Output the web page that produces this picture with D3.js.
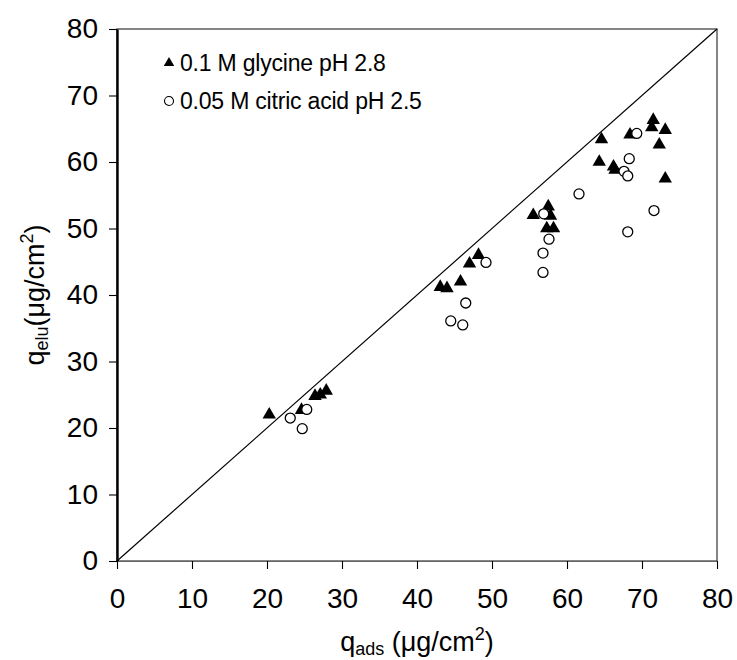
<!DOCTYPE html>
<html>
<head>
<meta charset="utf-8">
<script src="https://cdn.jsdelivr.net/npm/d3@7"></script>
<style>
	body { margin: 0; background: #fff; }
	svg { font-family: 'Liberation Sans', Arial, sans-serif; }
</style>
</head>
<body>
<svg width="737" height="660"></svg>
<script>

// glycine, filled triangles
const glycineX = [ 20.3, 24.6, 26.4, 27.1, 27.9, 43.1, 44.0, 45.8, 47.0, 48.2, 55.5, 57.5, 57.8, 57.3, 58.2, 64.3, 64.6, 66.2, 66.4, 68.4, 71.5, 71.3, 72.3, 73.1, 73.1 ],
	glycineY = [ 22.0, 22.7, 24.8, 25.0, 25.6, 41.2, 41.0, 42.0, 44.7, 46.0, 52.0, 53.3, 51.9, 50.0, 50.0, 60.0, 63.4, 59.3, 58.8, 64.1, 66.3, 65.2, 62.6, 64.8, 57.5 ]

// citric acid, open circles
const citricX = [ 23.1, 24.7, 25.3, 44.5, 46.1, 46.5, 49.2, 56.8, 56.8, 56.9, 57.6, 61.6, 67.6, 68.1, 68.3, 68.1, 69.3, 71.6 ],
	citricY = [ 21.5, 19.9, 22.8, 36.1, 35.5, 38.8, 44.9, 46.3, 43.4, 52.2, 48.4, 55.2, 58.6, 57.9, 60.5, 49.5, 64.3, 52.7 ]

const ticks = [ 0, 10, 20, 30, 40, 50, 60, 70, 80 ],
	legendLabels = [ '0.1 M glycine pH 2.8', '0.05 M citric acid pH 2.5' ]

const svg = d3.select( 'svg' ),
	width = +svg.attr( 'width' ),
	height = +svg.attr( 'height' ),
	margin = { top: 29, right: 20, bottom: 99, left: 117 },
	w = width - margin.left - margin.right,
	h = height - margin.top - margin.bottom

const x = d3.scaleLinear().domain( [ 0, 80 ] ).range( [ 0, w ] ),
	y = d3.scaleLinear().domain( [ 0, 80 ] ).range( [ h, 0 ] )

const g = svg.append( 'g' )
	.attr( 'transform', `translate(${margin.left},${margin.top})` )

// frame
g.append( 'rect' )
	.attr( 'width', w )
	.attr( 'height', h )
	.attr( 'fill', 'none' )
	.attr( 'stroke', '#444' )
	.attr( 'stroke-width', 1.3 )

// 1:1 line
g.append( 'line' )
	.attr( 'x1', x( 0 ) ).attr( 'y1', y( 0 ) )
	.attr( 'x2', x( 80 ) ).attr( 'y2', y( 80 ) )
	.attr( 'stroke', '#000' )
	.attr( 'stroke-width', 1.2 )

const xAxis = g.append( 'g' )
	.attr( 'transform', `translate(0,${h})` )
	.call( d3.axisBottom( x ).tickValues( ticks ).tickSize( 8 ).tickSizeOuter( 0 ).tickPadding( 19 ) )

const yAxis = g.append( 'g' )
	.call( d3.axisLeft( y ).tickValues( ticks ).tickSize( 8 ).tickSizeOuter( 0 ).tickPadding( 11 ) )

xAxis.select( '.domain' ).attr( 'stroke', '#666' ).attr( 'stroke-width', 1.2 )
yAxis.select( '.domain' ).attr( 'stroke-width', 2.4 )

svg.selectAll( '.tick text' )
	.attr( 'font-size', 28 )
	.attr( 'fill', '#000' )
	.attr( 'font-family', "'Liberation Sans', Arial, sans-serif" )
svg.selectAll( '.tick line' ).attr( 'stroke-width', 1.1 )

const tri = d3.symbol().type( d3.symbolTriangle ).size( 78 )

g.append( 'g' )
	.selectAll( 'path' )
	.data( glycineX.map( ( d, i ) => [ d, glycineY[ i ] ] ) )
	.enter()
	.append( 'path' )
	.attr( 'd', tri )
	.attr( 'transform', d => `translate(${x( d[ 0 ] )},${y( d[ 1 ] )})` )
	.attr( 'fill', '#000' )

g.append( 'g' )
	.selectAll( 'circle' )
	.data( citricX.map( ( d, i ) => [ d, citricY[ i ] ] ) )
	.enter()
	.append( 'circle' )
	.attr( 'cx', d => x( d[ 0 ] ) )
	.attr( 'cy', d => y( d[ 1 ] ) )
	.attr( 'r', 5 )
	.attr( 'fill', '#fff' )
	.attr( 'stroke', '#000' )
	.attr( 'stroke-width', 1.3 )

// legend
const legend = g.append( 'g' )
	.attr( 'transform', 'translate(52,34)' )

legend.append( 'path' )
	.attr( 'd', d3.symbol().type( d3.symbolTriangle ).size( 48 ) )
	.attr( 'fill', '#000' )

legend.append( 'circle' )
	.attr( 'cy', 38 )
	.attr( 'r', 4.5 )
	.attr( 'fill', '#fff' )
	.attr( 'stroke', '#000' )
	.attr( 'stroke-width', 1.1 )

legend.selectAll( 'text' )
	.data( legendLabels )
	.enter()
	.append( 'text' )
	.attr( 'x', 11 )
	.attr( 'y', ( d, i ) => i * 38 )
	.attr( 'dy', '0.35em' )
	.attr( 'font-size', 23 )
	.attr( 'letter-spacing', -0.2 )
	.text( d => d )

// axis titles
const xTitle = svg.append( 'text' )
	.attr( 'x', margin.left + w / 2 )
	.attr( 'y', 651 )
	.attr( 'text-anchor', 'middle' )
	.attr( 'font-size', 27 )
xTitle.append( 'tspan' ).text( 'q' )
xTitle.append( 'tspan' ).attr( 'font-size', 18 ).attr( 'dy', 4 ).text( 'ads' )
xTitle.append( 'tspan' ).attr( 'dy', -4 ).text( ' (μg/cm' )
xTitle.append( 'tspan' ).attr( 'font-size', 18 ).attr( 'dy', -11 ).text( '2' )
xTitle.append( 'tspan' ).attr( 'dy', 11 ).text( ')' )

const yTitle = svg.append( 'text' )
	.attr( 'transform', `translate(44,${margin.top + h / 2}) rotate(-90)` )
	.attr( 'text-anchor', 'middle' )
	.attr( 'font-size', 27 )
yTitle.append( 'tspan' ).text( 'q' )
yTitle.append( 'tspan' ).attr( 'font-size', 18 ).attr( 'dy', 4 ).text( 'elu' )
yTitle.append( 'tspan' ).attr( 'dy', -4 ).text( '(μg/cm' )
yTitle.append( 'tspan' ).attr( 'font-size', 18 ).attr( 'dy', -11 ).text( '2' )
yTitle.append( 'tspan' ).attr( 'dy', 11 ).text( ')' )

</script>
</body>
</html>
